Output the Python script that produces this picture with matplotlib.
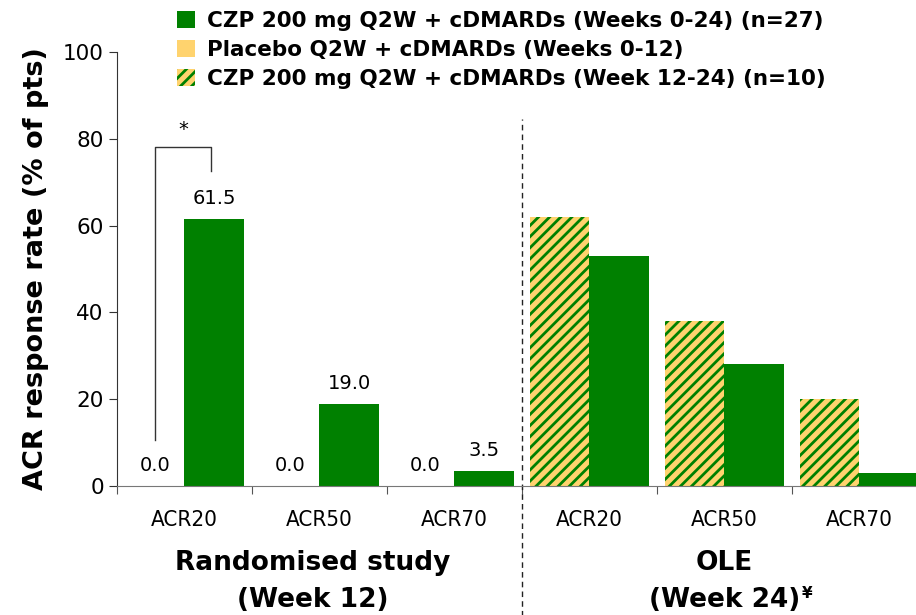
import matplotlib
matplotlib.use('Agg')
import matplotlib.pyplot as plt
from matplotlib.patches import Patch

# data
categories = ['ACR20', 'ACR50', 'ACR70', 'ACR20', 'ACR50', 'ACR70']
placebo_rct = [0.0, 0.0, 0.0]          # Placebo Q2W + cDMARDs, week 12
czp_rct = [61.5, 19.0, 3.5]            # CZP 200 mg, week 12
switch_ole = [62, 38, 20]              # placebo -> CZP, week 24
czp_ole = [53, 28, 3]                  # CZP 200 mg, week 24
group_line1 = ['Randomised study', 'OLE']
group_line2 = ['(Week 12)', '(Week 24)']
legend_labels = ['CZP 200 mg Q2W + cDMARDs (Weeks 0-24) (n=27)',
                 'Placebo Q2W + cDMARDs (Weeks 0-12)',
                 'CZP 200 mg Q2W + cDMARDs (Week 12-24) (n=10)']

green = '#008000'
yellow = '#FFD36E'
plt.rcParams['font.family'] = 'DejaVu Sans'
plt.rcParams['hatch.linewidth'] = 2.0

fig = plt.figure(figsize=(9.16, 6.15), dpi=100)
ax = fig.add_axes([117/916, 1-486/615, (916-117)/916, 434/615])

w = 0.44
x_rct = [i + 0.5 for i in range(3)]
x_ole = [i + 3.5 for i in range(3)]
ax.bar([x - w/2 for x in x_rct], placebo_rct, w, color=yellow)
ax.bar([x + w/2 for x in x_rct], czp_rct, w, color=green)
ax.bar([x - w/2 for x in x_ole], switch_ole, w, color=yellow, edgecolor=green,
       hatch='///', linewidth=0)
ax.bar([x + w/2 for x in x_ole], czp_ole, w, color=green)

for x, v in zip(x_rct, placebo_rct):
    ax.text(x - w/2, v + 2.5, f'{v:.1f}', ha='center', va='bottom', fontsize=14)
for x, v in zip(x_rct, czp_rct):
    ax.text(x + w/2, v + 2.5, f'{v:.1f}', ha='center', va='bottom', fontsize=14)

# significance bracket
ax.plot([x_rct[0] - w/2, x_rct[0] - w/2, x_rct[0] + w/2 - 0.02, x_rct[0] + w/2 - 0.02],
        [10.5, 78, 78, 72.5], color='#333333', lw=1)
ax.text(x_rct[0] - 0.01, 80, '*', ha='center', va='bottom', fontsize=14)

ax.set_xlim(0, 5.92)
ax.set_ylim(0, 100)
ax.set_yticks(range(0, 101, 20))
ax.set_xticks(range(0, 6))
ax.set_xticklabels([])
ax.set_xticks([i + 0.5 for i in range(6)], categories, minor=True)
ax.tick_params(axis='x', which='minor', length=0, pad=17, labelsize=16)
ax.tick_params(axis='x', which='major', length=6, direction='out', color='#555555')
ax.tick_params(axis='y', length=6, direction='out', labelsize=15.5, color='#333333')
for lab in ax.get_xticklabels(minor=True):
    lab.set_fontstretch('condensed')
ax.spines['top'].set_visible(False)
ax.spines['right'].set_visible(False)
ax.spines['bottom'].set_color('#777777')
ax.spines['left'].set_color('#333333')
ax.set_ylabel('ACR response rate (% of pts)', fontsize=19.5, fontweight='bold', labelpad=10)

# divider
ax.plot([3, 3], [-0.32, 0.845], transform=ax.get_xaxis_transform(), clip_on=False,
        color='#222222', lw=1, ls=(0, (4, 3)))

tr = ax.get_xaxis_transform()
for xc, l1, l2 in zip([1.45, 4.5], group_line1, group_line2):
    ax.text(xc, -0.177, l1, transform=tr, ha='center', va='center',
            fontsize=19, fontweight='bold')
    t2 = ax.text(xc, -0.263, l2, transform=tr, ha='center', va='center',
                 fontsize=19, fontweight='bold')
ax.annotate('¥', xy=(1, 1), xycoords=t2, xytext=(1.5, 1), textcoords='offset points',
            ha='left', va='top', fontsize=11, fontweight='bold')

handles = [Patch(facecolor=green),
           Patch(facecolor=yellow),
           Patch(facecolor=yellow, edgecolor=green, hatch='///', linewidth=0)]
fig.legend(handles, legend_labels, loc='upper left', bbox_to_anchor=(166/916, 1.0),
           frameon=False, handlelength=0.85, handleheight=0.85, handletextpad=0.55,
           labelspacing=0.42, prop={'weight': 'bold', 'size': 15.5}, borderaxespad=0.1)

fig.savefig('out.png', dpi=100)
